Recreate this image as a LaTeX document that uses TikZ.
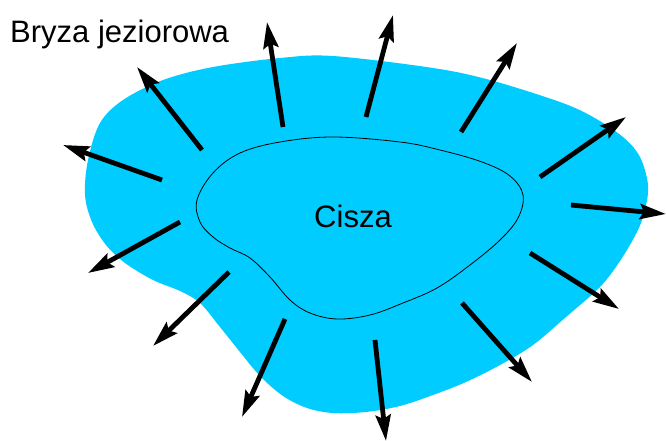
\documentclass[tikz,border=0pt]{standalone}
\usepackage{fontspec}
\setmainfont{Liberation Sans}
\usetikzlibrary{arrows.meta}
\definecolor{lake}{RGB}{0,204,255}
\tikzset{
  wind/.style={line width=4.8pt, -{Stealth[length=26pt,width=15pt,inset=4pt]}},
  label/.style={font=\fontsize{31}{31}\selectfont, inner sep=0pt},
}
\begin{document}
\begin{tikzpicture}[x=1pt,y=-1pt]
\useasboundingbox (0,0) rectangle (666,441);
% lake surface
\fill[lake] plot[smooth cycle, tension=0.55] coordinates {
  (85,195) (88,160) (100,123) (123,100) (163,80) (213,67) (280,58)
  (333,56) (433,68) (490,80) (560,102) (593,117) (623,137) (640,157)
  (648,185) (645,210) (637,232) (620,261) (600,287) (566,317) (533,345)
  (500,365) (466,382) (433,395) (400,406) (366,412) (333,413) (307,408)
  (283,396) (260,376) (240,352) (220,327) (200,303) (180,291) (153,280)
  (125,263) (106,245) (92,222)};
% calm zone boundary
\draw[line width=0.8pt] plot[smooth cycle, tension=0.6] coordinates {
  (197,200) (213,173) (240,153) (280,142) (333,137) (400,142) (440,150)
  (482,162) (510,176) (523,195) (518,218) (500,240) (470,265) (437,288)
  (403,303) (370,315) (337,319) (310,313) (290,300) (270,277) (250,258)
  (230,248) (213,237) (200,222)};
% labels
\node[label, anchor=base west] (title) at (10,43) {Bryza jeziorowa};
\node[label, anchor=base] (calm) at (353,227) {Cisza};
% breeze arrows: tail -> tip
\foreach \i/\tx/\ty/\hx/\hy in {
  1/162/180/63/145, 2/202/150/137/67, 3/283/127/267/22,
  4/366/117/393/15, 5/461/132/517/43, 6/540/177/626/117,
  7/571/205/666/214, 8/530/253/619/309, 9/462/303/532/382,
  10/375/340/386/441, 11/285/319/242/417, 12/229/272/153/346,
  13/180/222/88/273} {
  \coordinate (t\i) at (\tx,\ty);
  \coordinate (h\i) at (\hx,\hy);
  \draw[wind] (t\i) -- (h\i);
}
\end{tikzpicture}
\end{document}
